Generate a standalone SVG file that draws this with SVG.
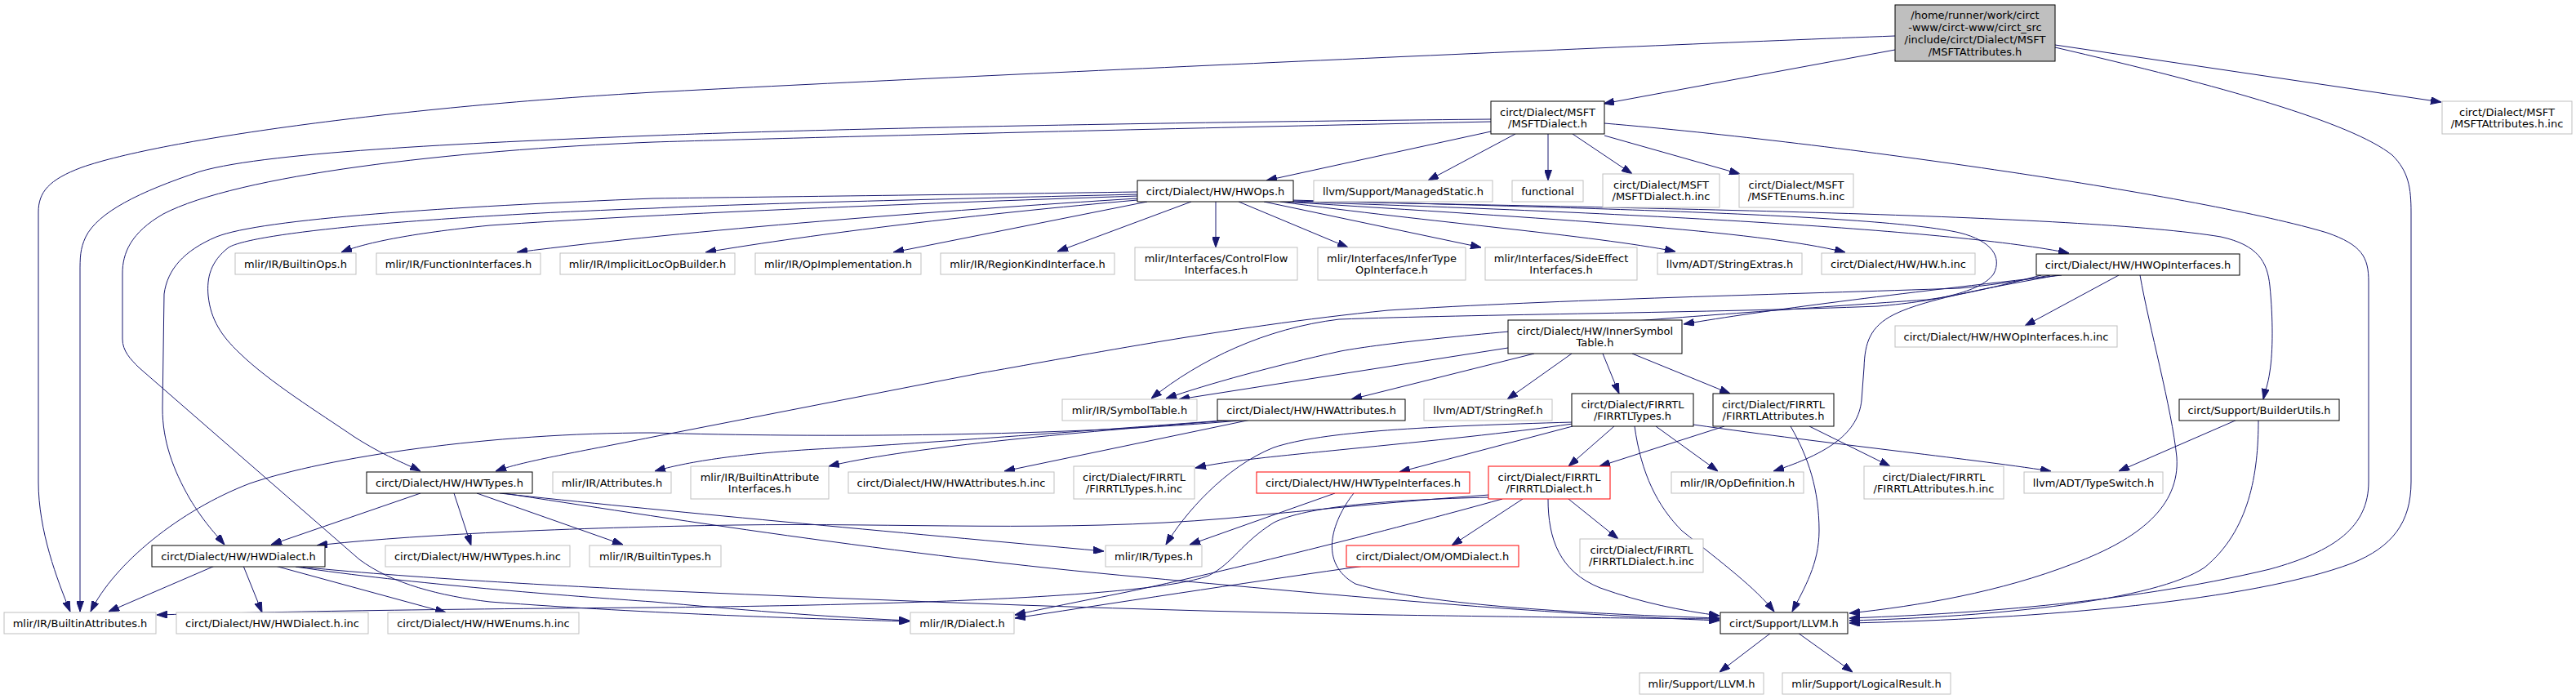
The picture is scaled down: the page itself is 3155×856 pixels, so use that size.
<svg xmlns="http://www.w3.org/2000/svg" width="3155" height="856" viewBox="0 0 3155 856">
<style>
.bg{fill:#fff}
.nd rect{fill:#fff;stroke:#000;stroke-width:1}
.nd.lf rect{stroke:#bfbfbf}
.nd.rd rect{stroke:#ff0000}
.nd.top rect{fill:#bfbfbf;stroke:#000}
.nd text{font-family:"DejaVu Sans","Liberation Sans",sans-serif;font-size:13px;text-anchor:middle;fill:#000}
.e path{fill:none;stroke:#191970;stroke-width:1;marker-end:url(#ah)}
</style>
<defs>
<marker id="ah" markerWidth="13" markerHeight="9" refX="13" refY="4.5" orient="auto" markerUnits="userSpaceOnUse"><path d="M0,0 L13,4.5 L0,9 z" fill="#191970" stroke="#191970" stroke-width="1"/></marker>
</defs>
<rect class="bg" x="0" y="0" width="3155" height="856"/>
<g id="edges" class="e">
<path d="M2321,61 L1964,127"/>
<path d="M2517,55 L2990,125"/>
<path d="M2517,58 C2720,105 2880,150 2930,190 C2950,210 2953,230 2953,260 L2953,590 C2953,640 2930,670 2880,690 C2760,735 2500,758 2265,763"/>
<path d="M2321,44 C2000,56 1200,92 800,113 C500,130 200,170 100,205 C60,220 47,235 47,260 L47,590 C47,650 70,710 86,749"/>
<path d="M1826,161 L1551,221"/>
<path d="M1856,164 L1749,221"/>
<path d="M1896,164 L1896,221"/>
<path d="M1926,164 L1999,213"/>
<path d="M1965,166 L2131,213"/>
<path d="M1965,151 C2250,175 2700,240 2850,285 C2893,300 2901,315 2901,345 L2901,590 C2901,645 2860,675 2780,697 C2600,740 2400,752 2265,757"/>
<path d="M1826,146 C1400,150 1000,158 800,166 C600,174 330,185 245,210 C170,235 120,260 105,290 C98,305 98,315 98,335 L98,749"/>
<path d="M1826,149 C1400,158 1000,168 800,174 C550,184 290,215 200,262 C160,285 150,310 150,335 L150,415 C150,430 160,440 170,450 L440,685 C480,715 540,730 600,737 C800,752 1000,758 1114,761"/>
<path d="M1489,247 L1489,303"/>
<path d="M1517,247 L1651,303"/>
<path d="M1548,247 L1814,303"/>
<path d="M1568,247 C1750,272 1950,288 2052,308"/>
<path d="M1573,247 C1900,268 2150,282 2260,309"/>
<path d="M1577,247 C2000,260 2400,282 2534,310"/>
<path d="M1580,246 C2000,255 2550,262 2720,290 C2765,300 2777,320 2780,350 C2784,390 2784,430 2780,455 C2778,470 2774,480 2772,489"/>
<path d="M1582,245 C1900,254 2300,262 2400,285 C2440,295 2452,315 2442,335 C2428,356 2380,368 2300,375 C2100,383 1800,385 1640,391 C1550,402 1470,440 1410,488"/>
<path d="M1393,235 C1200,238 950,241 800,243 C550,253 320,268 265,290 C225,307 205,330 201,360 L199,500 C199,540 212,575 232,610 C250,640 265,655 275,667"/>
<path d="M1393,238 C1100,245 900,250 800,255 C520,265 310,285 280,303 C258,320 253,340 255,362 C258,392 272,412 293,432 C330,468 390,505 434,535 C470,558 495,567 515,577"/>
<path d="M1393,240 C1100,250 800,262 600,276 C500,286 445,298 418,309"/>
<path d="M1393,243 C1150,258 850,281 633,309"/>
<path d="M1393,245 C1200,262 1000,286 864,309"/>
<path d="M1405,247 L1094,309"/>
<path d="M1459,247 L1295,308"/>
<path d="M2520,337 C2450,350 2360,365 2320,385 C2290,400 2284,420 2283,450 L2280,490 C2276,530 2240,555 2172,577"/>
<path d="M2500,337 C2450,350 2400,362 2360,367 C2100,385 1750,410 1642,430 C1560,448 1480,470 1428,488"/>
<path d="M2511,337 C2470,345 2430,350 2400,353 C2200,360 1900,367 1700,380 C1500,400 1300,440 1200,457 L800,535 C700,555 640,565 607,577"/>
<path d="M2525,337 C2320,360 2160,380 2062,397"/>
<path d="M2595,337 L2480,399"/>
<path d="M2621,337 C2632,400 2660,500 2666,560 C2670,620 2620,660 2540,690 C2450,725 2350,742 2265,751"/>
<path d="M1847,426 L1444,489"/>
<path d="M1879,433 L1655,489"/>
<path d="M1925,433 L1846,489"/>
<path d="M1963,433 L1983,482"/>
<path d="M1999,433 L2119,482"/>
<path d="M1530,514 C1300,535 1000,536 800,530 C600,530 400,560 306,592 C220,625 140,690 111,749"/>
<path d="M1510,514 C1300,530 1100,545 1000,550 C900,556 840,566 802,577"/>
<path d="M1518,514 C1300,530 1100,550 1015,571"/>
<path d="M1532,514 L1230,577"/>
<path d="M1926,519 C1850,530 1750,540 1650,550 C1550,560 1500,565 1464,573"/>
<path d="M1926,522 L1714,578"/>
<path d="M1926,517 C1750,522 1620,528 1560,548 C1500,572 1450,630 1428,667"/>
<path d="M1977,522 L1921,571"/>
<path d="M2002,522 C2010,580 2030,620 2060,650 C2110,690 2150,720 2173,749"/>
<path d="M2028,522 L2104,577"/>
<path d="M2074,520 C2250,545 2400,560 2512,577"/>
<path d="M2112,522 L1959,571"/>
<path d="M2193,522 C2215,560 2228,600 2228,650 C2228,690 2210,720 2195,749"/>
<path d="M2216,522 L2315,571"/>
<path d="M2740,514 L2595,577"/>
<path d="M2766,514 C2766,580 2755,650 2700,695 C2640,735 2450,755 2265,760"/>
<path d="M1635,604 L1457,667"/>
<path d="M1658,604 C1630,640 1615,690 1660,715 C1750,742 1950,752 2106,757"/>
<path d="M1865,611 L1778,668"/>
<path d="M1921,611 L1982,660"/>
<path d="M1896,611 C1896,660 1910,700 1960,720 C2010,738 2060,748 2106,754"/>
<path d="M1824,606 C1700,615 1584,627 1500,635 C1300,652 1100,640 900,643 C700,646 500,655 388,668"/>
<path d="M1824,609 C1700,612 1600,620 1560,640 C1520,665 1510,690 1480,705 C1400,735 1000,742 800,744 C500,746 300,750 192,753"/>
<path d="M1840,611 C1700,650 1500,700 1380,725 C1320,737 1280,745 1243,753"/>
<path d="M1671,693 C1550,710 1400,733 1243,757"/>
<path d="M515,604 L332,667"/>
<path d="M556,604 L577,668"/>
<path d="M584,604 L763,667"/>
<path d="M612,604 C800,625 1100,652 1352,675"/>
<path d="M617,604 C800,632 1100,680 1400,707 C1700,735 1900,752 2106,760"/>
<path d="M263,693 L133,749"/>
<path d="M298,693 L321,750"/>
<path d="M337,693 L546,750"/>
<path d="M357,693 C500,708 700,718 800,723 C1100,736 1400,748 1700,753 C1900,756 2000,757 2106,758"/>
<path d="M362,694 C500,715 700,730 800,737 C900,746 1000,755 1114,760"/>
<path d="M2169,775 L2106,823"/>
<path d="M2202,775 L2269,823"/>
</g>
<g id="n_top" class="nd top"><rect x="2321" y="6" width="196" height="69"/><text x="2419" y="22.5">/home/runner/work/circt</text><text x="2419" y="37.5">-www/circt-www/circt_src</text><text x="2419" y="52.5">/include/circt/Dialect/MSFT</text><text x="2419" y="67.5">/MSFTAttributes.h</text></g>
<g id="n_msftdialect" class="nd"><rect x="1826" y="124" width="139" height="40"/><text x="1895.5" y="141.5">circt/Dialect/MSFT</text><text x="1895.5" y="155.5">/MSFTDialect.h</text></g>
<g id="n_msftattrinc" class="nd lf"><rect x="2991" y="124" width="159" height="40"/><text x="3070.5" y="141.5">circt/Dialect/MSFT</text><text x="3070.5" y="155.5">/MSFTAttributes.h.inc</text></g>
<g id="n_hwops" class="nd"><rect x="1393" y="221" width="191" height="26"/><text x="1488.5" y="238.5">circt/Dialect/HW/HWOps.h</text></g>
<g id="n_managedstatic" class="nd lf"><rect x="1609" y="221" width="219" height="26"/><text x="1718.5" y="238.5">llvm/Support/ManagedStatic.h</text></g>
<g id="n_functional" class="nd lf"><rect x="1852" y="221" width="87" height="26"/><text x="1895.5" y="238.5">functional</text></g>
<g id="n_msftdialectinc" class="nd lf"><rect x="1963" y="213" width="143" height="41"/><text x="2034.5" y="230.5">circt/Dialect/MSFT</text><text x="2034.5" y="244.5">/MSFTDialect.h.inc</text></g>
<g id="n_msftenumsinc" class="nd lf"><rect x="2130" y="213" width="140" height="41"/><text x="2200" y="230.5">circt/Dialect/MSFT</text><text x="2200" y="244.5">/MSFTEnums.h.inc</text></g>
<g id="n_builtinops" class="nd lf"><rect x="288" y="310" width="148" height="26"/><text x="362" y="327.5">mlir/IR/BuiltinOps.h</text></g>
<g id="n_funcif" class="nd lf"><rect x="461" y="310" width="201" height="26"/><text x="561.5" y="327.5">mlir/IR/FunctionInterfaces.h</text></g>
<g id="n_implicitloc" class="nd lf"><rect x="686" y="310" width="214" height="26"/><text x="793" y="327.5">mlir/IR/ImplicitLocOpBuilder.h</text></g>
<g id="n_opimpl" class="nd lf"><rect x="925" y="310" width="203" height="26"/><text x="1026.5" y="327.5">mlir/IR/OpImplementation.h</text></g>
<g id="n_regionkind" class="nd lf"><rect x="1152" y="310" width="213" height="26"/><text x="1258.5" y="327.5">mlir/IR/RegionKindInterface.h</text></g>
<g id="n_controlflow" class="nd lf"><rect x="1390" y="303" width="199" height="40"/><text x="1489.5" y="320.5">mlir/Interfaces/ControlFlow</text><text x="1489.5" y="334.5">Interfaces.h</text></g>
<g id="n_infertype" class="nd lf"><rect x="1614" y="303" width="181" height="40"/><text x="1704.5" y="320.5">mlir/Interfaces/InferType</text><text x="1704.5" y="334.5">OpInterface.h</text></g>
<g id="n_sideeffect" class="nd lf"><rect x="1819" y="303" width="186" height="40"/><text x="1912" y="320.5">mlir/Interfaces/SideEffect</text><text x="1912" y="334.5">Interfaces.h</text></g>
<g id="n_stringextras" class="nd lf"><rect x="2030" y="310" width="177" height="26"/><text x="2118.5" y="327.5">llvm/ADT/StringExtras.h</text></g>
<g id="n_hwhinc" class="nd lf"><rect x="2231" y="310" width="188" height="26"/><text x="2325" y="327.5">circt/Dialect/HW/HW.h.inc</text></g>
<g id="n_hwopinterfaces" class="nd"><rect x="2494" y="311" width="249" height="26"/><text x="2618.5" y="328.5">circt/Dialect/HW/HWOpInterfaces.h</text></g>
<g id="n_innersym" class="nd"><rect x="1847" y="392" width="213" height="41"/><text x="1953.5" y="409.5">circt/Dialect/HW/InnerSymbol</text><text x="1953.5" y="423.5">Table.h</text></g>
<g id="n_hwopinterfacesinc" class="nd lf"><rect x="2321" y="399" width="272" height="26"/><text x="2457" y="416.5">circt/Dialect/HW/HWOpInterfaces.h.inc</text></g>
<g id="n_symboltable" class="nd lf"><rect x="1301" y="489" width="165" height="26"/><text x="1383.5" y="506.5">mlir/IR/SymbolTable.h</text></g>
<g id="n_hwattributes" class="nd"><rect x="1491" y="489" width="230" height="26"/><text x="1606" y="506.5">circt/Dialect/HW/HWAttributes.h</text></g>
<g id="n_stringref" class="nd lf"><rect x="1744" y="489" width="157" height="26"/><text x="1822.5" y="506.5">llvm/ADT/StringRef.h</text></g>
<g id="n_firrtltypes" class="nd"><rect x="1925" y="482" width="149" height="40"/><text x="1999.5" y="499.5">circt/Dialect/FIRRTL</text><text x="1999.5" y="513.5">/FIRRTLTypes.h</text></g>
<g id="n_firrtlattrs" class="nd"><rect x="2098" y="482" width="148" height="40"/><text x="2172" y="499.5">circt/Dialect/FIRRTL</text><text x="2172" y="513.5">/FIRRTLAttributes.h</text></g>
<g id="n_builderutils" class="nd"><rect x="2669" y="489" width="196" height="26"/><text x="2767" y="506.5">circt/Support/BuilderUtils.h</text></g>
<g id="n_hwtypes" class="nd"><rect x="449" y="578" width="203" height="26"/><text x="550.5" y="595.5">circt/Dialect/HW/HWTypes.h</text></g>
<g id="n_attributes" class="nd lf"><rect x="677" y="578" width="145" height="26"/><text x="749.5" y="595.5">mlir/IR/Attributes.h</text></g>
<g id="n_builtinattrif" class="nd lf"><rect x="846" y="571" width="169" height="40"/><text x="930.5" y="588.5">mlir/IR/BuiltinAttribute</text><text x="930.5" y="602.5">Interfaces.h</text></g>
<g id="n_hwattrinc" class="nd lf"><rect x="1039" y="578" width="252" height="26"/><text x="1165" y="595.5">circt/Dialect/HW/HWAttributes.h.inc</text></g>
<g id="n_firrtltypesinc" class="nd lf"><rect x="1315" y="571" width="148" height="40"/><text x="1389" y="588.5">circt/Dialect/FIRRTL</text><text x="1389" y="602.5">/FIRRTLTypes.h.inc</text></g>
<g id="n_hwtypeif" class="nd rd"><rect x="1539" y="578" width="261" height="26"/><text x="1669.5" y="595.5">circt/Dialect/HW/HWTypeInterfaces.h</text></g>
<g id="n_firrtldialect" class="nd rd"><rect x="1823" y="571" width="149" height="40"/><text x="1897.5" y="588.5">circt/Dialect/FIRRTL</text><text x="1897.5" y="602.5">/FIRRTLDialect.h</text></g>
<g id="n_opdefinition" class="nd lf"><rect x="2047" y="578" width="162" height="26"/><text x="2128" y="595.5">mlir/IR/OpDefinition.h</text></g>
<g id="n_firrtlattrsinc" class="nd lf"><rect x="2283" y="571" width="171" height="40"/><text x="2368.5" y="588.5">circt/Dialect/FIRRTL</text><text x="2368.5" y="602.5">/FIRRTLAttributes.h.inc</text></g>
<g id="n_typeswitch" class="nd lf"><rect x="2479" y="578" width="170" height="26"/><text x="2564" y="595.5">llvm/ADT/TypeSwitch.h</text></g>
<g id="n_hwdialect" class="nd"><rect x="186" y="668" width="212" height="26"/><text x="292" y="685.5">circt/Dialect/HW/HWDialect.h</text></g>
<g id="n_hwtypesinc" class="nd lf"><rect x="472" y="668" width="226" height="26"/><text x="585" y="685.5">circt/Dialect/HW/HWTypes.h.inc</text></g>
<g id="n_builtintypes" class="nd lf"><rect x="722" y="668" width="161" height="26"/><text x="802.5" y="685.5">mlir/IR/BuiltinTypes.h</text></g>
<g id="n_types" class="nd lf"><rect x="1354" y="668" width="118" height="26"/><text x="1413" y="685.5">mlir/IR/Types.h</text></g>
<g id="n_omdialect" class="nd rd"><rect x="1649" y="668" width="211" height="26"/><text x="1754.5" y="685.5">circt/Dialect/OM/OMDialect.h</text></g>
<g id="n_firrtldialectinc" class="nd lf"><rect x="1935" y="660" width="151" height="41"/><text x="2010.5" y="677.5">circt/Dialect/FIRRTL</text><text x="2010.5" y="691.5">/FIRRTLDialect.h.inc</text></g>
<g id="n_builtinattrs" class="nd lf"><rect x="5" y="750" width="186" height="26"/><text x="98" y="767.5">mlir/IR/BuiltinAttributes.h</text></g>
<g id="n_hwdialectinc" class="nd lf"><rect x="216" y="750" width="235" height="26"/><text x="333.5" y="767.5">circt/Dialect/HW/HWDialect.h.inc</text></g>
<g id="n_hwenumsinc" class="nd lf"><rect x="475" y="750" width="234" height="26"/><text x="592" y="767.5">circt/Dialect/HW/HWEnums.h.inc</text></g>
<g id="n_dialect" class="nd lf"><rect x="1115" y="750" width="127" height="26"/><text x="1178.5" y="767.5">mlir/IR/Dialect.h</text></g>
<g id="n_llvm" class="nd"><rect x="2107" y="750" width="156" height="26"/><text x="2185" y="767.5">circt/Support/LLVM.h</text></g>
<g id="n_mlirllvm" class="nd lf"><rect x="2008" y="824" width="152" height="26"/><text x="2084" y="841.5">mlir/Support/LLVM.h</text></g>
<g id="n_logicalresult" class="nd lf"><rect x="2183" y="824" width="206" height="26"/><text x="2286" y="841.5">mlir/Support/LogicalResult.h</text></g>
</svg>
